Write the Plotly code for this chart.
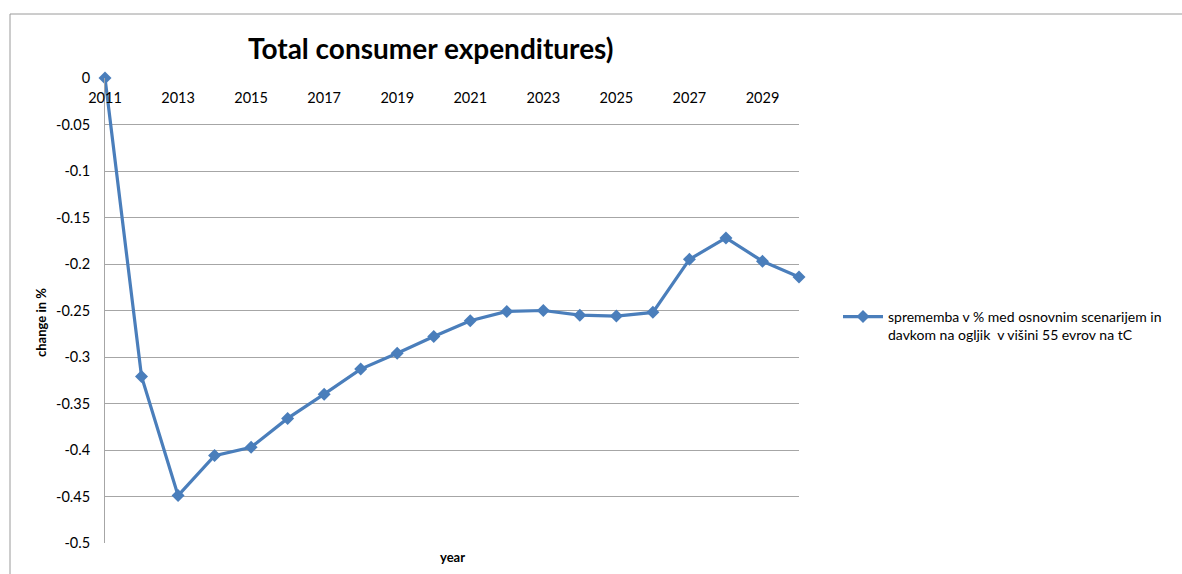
import plotly.graph_objects as go

years = list(range(2011, 2031))
values = [0.0, -0.321, -0.449, -0.406, -0.397, -0.366, -0.340, -0.313, -0.296, -0.278,
          -0.261, -0.251, -0.250, -0.255, -0.256, -0.252, -0.195, -0.172, -0.197, -0.214]
x_tick_vals = list(range(2011, 2030, 2))
y_tick_vals = [0, -0.05, -0.1, -0.15, -0.2, -0.25, -0.3, -0.35, -0.4, -0.45, -0.5]
y_tick_text = ["0", "-0.05", "-0.1", "-0.15", "-0.2", "-0.25", "-0.3", "-0.35", "-0.4", "-0.45", "-0.5"]
series_name = "sprememba v % med osnovnim scenarijem in<br>davkom na ogljik  v višini 55 evrov na tC"

W, H = 1182, 574
L, R, T, B = 105, 799, 78, 543
pw, ph = R - L, B - T

def px(x):
    return (x - L) / pw

def py(y):
    return (B - y) / ph

FONT = "Lato, 'Open Sans', sans-serif"
blue = "#4a7ebb"
grid = "#a6a6a6"

fig = go.Figure()
fig.add_trace(go.Scatter(
    x=years, y=values, mode="lines+markers", name=series_name,
    line=dict(color=blue, width=3.2),
    marker=dict(symbol="diamond", size=10, color=blue),
    cliponaxis=False,
))

fig.update_layout(
    width=W, height=H,
    margin=dict(l=L, r=W - R, t=T, b=H - B, autoexpand=False),
    paper_bgcolor="white", plot_bgcolor="white",
    font=dict(family=FONT, size=14.5, color="#000"),
    showlegend=True,
    legend=dict(x=px(838), y=py(301), xanchor="left", yanchor="top",
                valign="top", font=dict(size=14, family=FONT),
                itemwidth=40, tracegroupgap=0, bgcolor="rgba(0,0,0,0)"),
    xaxis=dict(range=[2011, 2030], tickvals=x_tick_vals, ticktext=[str(v) for v in x_tick_vals],
               showgrid=False, zeroline=False, showline=False, ticks="",
               anchor="free", position=1.0, side="bottom", ticklabelstandoff=9,
               tickfont=dict(size=14.5, family=FONT)),
    yaxis=dict(range=[-0.5, 0], tickvals=y_tick_vals, ticktext=y_tick_text,
               showgrid=True, gridcolor=grid, gridwidth=1, zeroline=False,
               showline=True, linecolor=grid, linewidth=1, ticks="",
               ticklabelstandoff=11, tickfont=dict(size=14.5, family=FONT)),
)

fig.add_annotation(text="<b>Total consumer expenditures)</b>", xref="paper", yref="paper",
                   x=px(430), y=py(48), xanchor="center", yanchor="middle",
                   showarrow=False, font=dict(size=28, family=FONT))
fig.add_annotation(text="<b>year</b>", xref="paper", yref="paper",
                   x=px(452), y=py(557), xanchor="center", yanchor="middle",
                   showarrow=False, font=dict(size=13, family=FONT))
fig.add_annotation(text="<b>change in %</b>", xref="paper", yref="paper", textangle=-90,
                   x=px(41), y=py(323), xanchor="center", yanchor="middle",
                   showarrow=False, font=dict(size=13, family=FONT))

# outer chart frame
fig.add_shape(type="line", xref="paper", yref="paper", x0=px(10), x1=px(1200), y0=py(14), y1=py(14),
              line=dict(color="#9a9a9a", width=1))
fig.add_shape(type="line", xref="paper", yref="paper", x0=px(10), x1=px(10), y0=py(14), y1=py(600),
              line=dict(color="#9a9a9a", width=1))

fig.write_html("out.html")
